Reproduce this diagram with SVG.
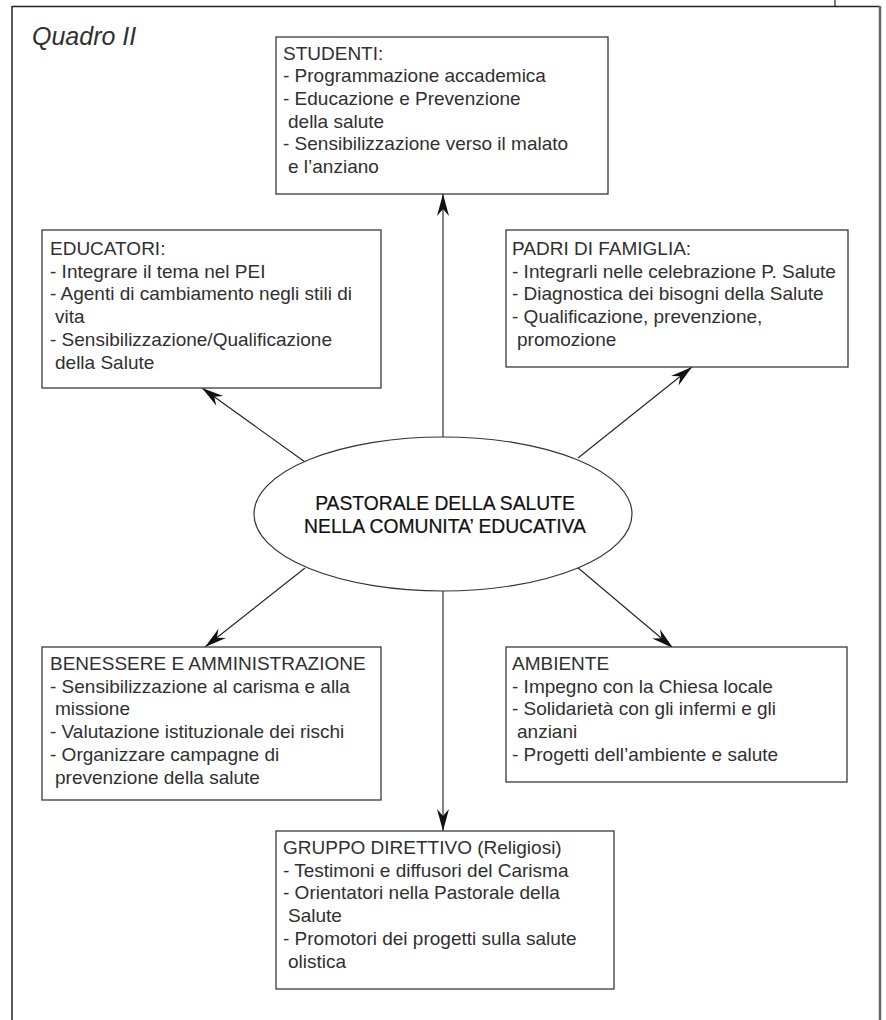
<svg xmlns="http://www.w3.org/2000/svg" width="886" height="1020" viewBox="0 0 886 1020">
<defs>
<style>
.frame{fill:none;stroke:#222;stroke-width:1.5}
.box{fill:#fff;stroke:#3a3a3a;stroke-width:1.3}
.t{font-family:"Liberation Sans",Arial,sans-serif;font-size:19px;fill:#303030}
.c{font-family:"Liberation Sans",Arial,sans-serif;font-size:19.3px;fill:#111;stroke:#111;stroke-width:0.2;text-anchor:middle}
.q{font-family:"Liberation Sans",Arial,sans-serif;font-size:25px;font-style:italic;fill:#303030}
.ln{fill:none;stroke:#222;stroke-width:1.1;marker-end:url(#ah)}
</style>
<marker id="ah" markerUnits="userSpaceOnUse" viewBox="-23 -8 24 16" refX="0" refY="0" markerWidth="24" markerHeight="16" orient="auto">
<path d="M0,0 L-22,-6 L-15,0 L-22,6 Z" fill="#111"/>
</marker>
</defs>
<g id="frame">
<line x1="12" y1="6.5" x2="880" y2="6.5" class="frame"/>
<line x1="12" y1="6" x2="12" y2="1020" class="frame"/>
<line x1="880" y1="6" x2="880" y2="1020" style="stroke:#666;stroke-width:2.5"/>
<line x1="835" y1="0" x2="835" y2="6.5" class="frame" style="stroke-width:1.2"/>
<text class="q" x="32" y="45">Quadro II</text>
</g>
<g id="connectors">
<line class="ln" x1="443" y1="437" x2="443" y2="194"/>
<line class="ln" x1="305" y1="462" x2="202" y2="388"/>
<line class="ln" x1="578" y1="458" x2="692" y2="367"/>
<line class="ln" x1="305" y1="568" x2="205" y2="647"/>
<line class="ln" x1="577" y1="567" x2="673" y2="648"/>
<line class="ln" x1="443" y1="591" x2="443" y2="831"/>
</g>
<g id="center">
<ellipse cx="443" cy="514" rx="189" ry="77" fill="#fff" stroke="#333" stroke-width="1.2"/>
<text class="c" x="445" y="510">PASTORALE DELLA SALUTE</text>
<text class="c" x="445" y="533">NELLA COMUNITA’ EDUCATIVA</text>
</g>
<g id="studenti">
<rect class="box" x="276" y="37" width="332" height="157"/>
<text class="t" x="283" y="59.5">STUDENTI:</text>
<text class="t" x="283" y="82.2">- Programmazione accademica</text>
<text class="t" x="283" y="104.9">- Educazione e Prevenzione</text>
<text class="t" x="288" y="127.6">della salute</text>
<text class="t" x="283" y="150.3">- Sensibilizzazione verso il malato</text>
<text class="t" x="288" y="173">e l’anziano</text>
</g>
<g id="educatori">
<rect class="box" x="42" y="230" width="339" height="158"/>
<text class="t" x="50" y="255">EDUCATORI:</text>
<text class="t" x="50" y="277.7">- Integrare il tema nel PEI</text>
<text class="t" x="50" y="300.4">- Agenti di cambiamento negli stili di</text>
<text class="t" x="55" y="323.1">vita</text>
<text class="t" x="50" y="345.8">- Sensibilizzazione/Qualificazione</text>
<text class="t" x="55" y="368.5">della Salute</text>
</g>
<g id="padri">
<rect class="box" x="506" y="230" width="342" height="137"/>
<text class="t" x="512" y="255">PADRI DI FAMIGLIA:</text>
<text class="t" x="512" y="277.7">- Integrarli nelle celebrazione P. Salute</text>
<text class="t" x="512" y="300.4">- Diagnostica dei bisogni della Salute</text>
<text class="t" x="512" y="323.1">- Qualificazione, prevenzione,</text>
<text class="t" x="517" y="345.8">promozione</text>
</g>
<g id="benessere">
<rect class="box" x="42" y="647" width="339" height="153"/>
<text class="t" x="50" y="670">BENESSERE E AMMINISTRAZIONE</text>
<text class="t" x="50" y="692.7">- Sensibilizzazione al carisma e alla</text>
<text class="t" x="55" y="715.4">missione</text>
<text class="t" x="50" y="738.1">- Valutazione istituzionale dei rischi</text>
<text class="t" x="50" y="760.8">- Organizzare campagne di</text>
<text class="t" x="55" y="783.5">prevenzione della salute</text>
</g>
<g id="ambiente">
<rect class="box" x="506" y="647" width="341" height="135"/>
<text class="t" x="512" y="670">AMBIENTE</text>
<text class="t" x="512" y="692.7">- Impegno con la Chiesa locale</text>
<text class="t" x="512" y="715.4">- Solidarietà con gli infermi e gli</text>
<text class="t" x="517" y="738.1">anziani</text>
<text class="t" x="512" y="760.8">- Progetti dell’ambiente e salute</text>
</g>
<g id="gruppo">
<rect class="box" x="276" y="831" width="338" height="158"/>
<text class="t" x="283" y="854">GRUPPO DIRETTIVO (Religiosi)</text>
<text class="t" x="283" y="876.7">- Testimoni e diffusori del Carisma</text>
<text class="t" x="283" y="899.4">- Orientatori nella Pastorale della</text>
<text class="t" x="288" y="922.1">Salute</text>
<text class="t" x="283" y="944.8">- Promotori dei progetti sulla salute</text>
<text class="t" x="288" y="967.5">olistica</text>
</g>
</svg>
